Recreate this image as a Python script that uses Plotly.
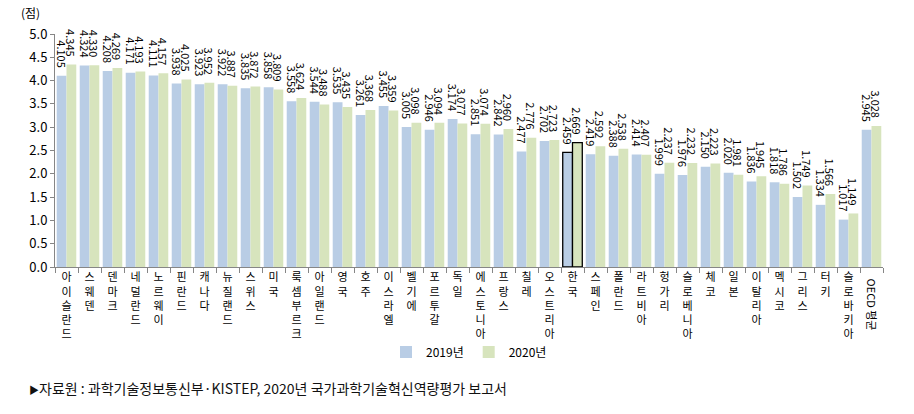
import plotly.graph_objects as go

countries = ["아이슬란드", "스웨덴", "덴마크", "네덜란드", "노르웨이", "핀란드", "캐나다", "뉴질랜드",
             "스위스", "미국", "룩셈부르크", "아일랜드", "영국", "호주", "이스라엘", "벨기에", "포르투갈",
             "독일", "에스토니아", "프랑스", "칠레", "오스트리아", "한국", "스페인", "폴란드", "라트비아",
             "헝가리", "슬로베니아", "체코", "일본", "이탈리아", "멕시코", "그리스", "터키", "슬로바키아",
             "OECD 평균"]
v2019 = [4.105, 4.324, 4.208, 4.171, 4.111, 3.938, 3.923, 3.922, 3.835, 3.858, 3.558, 3.544,
         3.535, 3.261, 3.455, 3.005, 2.946, 3.174, 2.851, 2.842, 2.477, 2.702, 2.459, 2.419,
         2.388, 2.414, 1.999, 1.976, 2.150, 2.020, 1.836, 1.818, 1.502, 1.334, 1.017, 2.945]
v2020 = [4.345, 4.330, 4.269, 4.193, 4.157, 4.025, 3.952, 3.887, 3.872, 3.809, 3.624, 3.488,
         3.435, 3.368, 3.359, 3.098, 3.094, 3.077, 3.074, 2.960, 2.776, 2.723, 2.669, 2.592,
         2.538, 2.407, 2.237, 2.232, 2.223, 1.981, 1.945, 1.786, 1.749, 1.566, 1.149, 3.028]
y_ticks = [0.0, 0.5, 1.0, 1.5, 2.0, 2.5, 3.0, 3.5, 4.0, 4.5, 5.0]
highlight = "한국"
series_names = ["2019년", "2020년"]
source_text = "자료원 : 과학기술정보통신부·KISTEP, 2020년 국가과학기술혁신역량평가 보고서"
unit_text = "(점)"

FONT = "Noto Sans CJK KR"
BLUE = "#B9CDE5"
GREEN = "#D7E4BD"
NB = "\u00a0"

def line_style(cats):
    return dict(color=["#000000" if c == highlight else "rgba(0,0,0,0)" for c in cats],
                width=[1.3 if c == highlight else 0 for c in cats])

fig = go.Figure()
for name, vals, col in [(series_names[0], v2019, BLUE), (series_names[1], v2020, GREEN)]:
    fig.add_trace(go.Bar(
        x=countries, y=vals, name=name,
        marker=dict(color=col, line=line_style(countries)),
        text=[f"{v:.3f}" + NB * 2 for v in vals],
        textposition="outside", textangle=90, constraintext="none",
        textfont=dict(family=FONT, size=11, color="#000000"),
        cliponaxis=False,
    ))

ticktext = ["" if c.startswith("OECD") else "<br>".join(list(c)) for c in countries]

fig.update_layout(
    width=914, height=414,
    margin=dict(l=55, r=31, t=34, b=147),
    paper_bgcolor="white", plot_bgcolor="white",
    barmode="group", bargap=0.15, bargroupgap=0,
    font=dict(family=FONT, size=12, color="#000000"),
    showlegend=True,
    legend=dict(orientation="h", x=0.5, xanchor="center", y=-0.365, yanchor="middle",
                font=dict(family=FONT, size=12, color="#000000"),
                itemwidth=30, traceorder="normal", bgcolor="rgba(0,0,0,0)"),
    xaxis=dict(
        tickmode="array", tickvals=countries, ticktext=ticktext,
        tickangle=0, tickfont=dict(family=FONT, size=11, color="#000000"),
        showline=True, linecolor="#868686", linewidth=1,
        ticks="outside", tickson="boundaries", ticklen=5, tickcolor="#868686",
        showgrid=False, zeroline=False,
    ),
    yaxis=dict(
        range=[0, 5], tickvals=y_ticks, ticktext=[f"{t:.1f}" for t in y_ticks],
        tickfont=dict(family=FONT, size=13, color="#000000"),
        showline=True, linecolor="#868686", linewidth=1,
        ticks="outside", ticklen=4, tickcolor="#868686",
        showgrid=False, zeroline=False,
    ),
)

fig.add_annotation(x=countries[-1], y=0, xref="x", yref="y", text=countries[-1],
                   textangle=90, showarrow=False, yanchor="top", xanchor="center", yshift=-9,
                   font=dict(family=FONT, size=11, color="#000000"))
fig.add_annotation(x=-0.03, y=1.094, xref="paper", yref="paper", text=unit_text,
                   showarrow=False, xanchor="center", yanchor="middle",
                   font=dict(family=FONT, size=12, color="#000000"))
fig.add_annotation(x=-0.034, y=-0.519, xref="paper", yref="paper",
                   text="<span style='font-size:10px'>▶</span>" + source_text,
                   showarrow=False, xanchor="left", yanchor="middle",
                   font=dict(family=FONT, size=14, color="#111111"))

fig.write_html("out.html")
